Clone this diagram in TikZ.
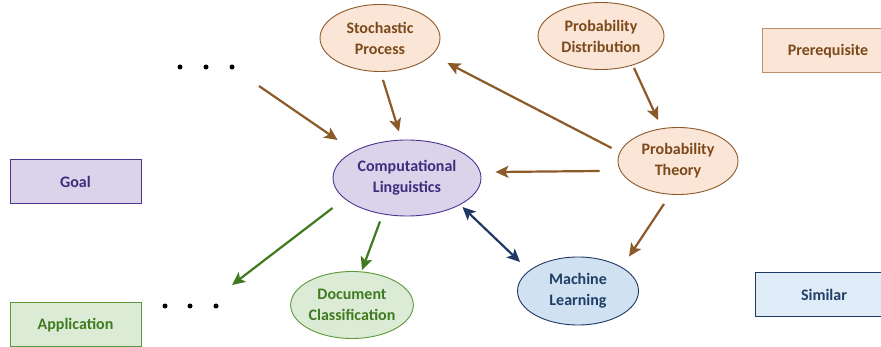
\documentclass[tikz,border=0pt]{standalone}
\usepackage{fontspec}
\setmainfont{Carlito}
\usetikzlibrary{shapes.geometric,arrows.meta,calc}
\definecolor{peach}{HTML}{FBE5D6}
\definecolor{brtext}{HTML}{7B4A1B}
\definecolor{brline}{HTML}{8C5A28}
\definecolor{brlight}{HTML}{B8906A}
\definecolor{pufill}{HTML}{DAD3EA}
\definecolor{putext}{HTML}{3F2C7E}
\definecolor{puline}{HTML}{4B3590}
\definecolor{grfill}{HTML}{DCEBD5}
\definecolor{grtext}{HTML}{3E7B21}
\definecolor{grline}{HTML}{5B9A3A}
\definecolor{grarrow}{HTML}{3F7A1F}
\definecolor{blfill}{HTML}{D0E1F2}
\definecolor{blfill2}{HTML}{DFEBF6}
\definecolor{bltext}{HTML}{1F3F66}
\definecolor{blline}{HTML}{1F3864}
\tikzset{
  txt/.style={font=\bfseries\fontsize{16}{21}\selectfont, align=center},
  ell/.style={ellipse, draw, line width=0.9pt, inner sep=0pt, minimum width=120pt, minimum height=67pt, txt},
  box/.style={rectangle, draw, line width=1pt, inner sep=0pt, minimum height=44pt, txt},
  pre/.style={fill=peach, draw=brline, text=brtext},
  arr/.style={line width=2.2pt, -{Stealth[length=13pt,width=12pt,inset=3pt]}},
  dot/.style={circle, fill=black, inner sep=0pt, minimum size=5pt}
}
\begin{document}
\begin{tikzpicture}[x=1pt,y=-1pt]
\useasboundingbox (0,0) rectangle (881,347);
% legend boxes
\node[box, fill=peach, draw=brlight, text=brtext, minimum width=132pt] (prereq) at (828,51) {Prerequisite};
\node[box, fill=pufill, draw=puline, text=putext, minimum width=131pt] (goal) at (75.5,181.5) {Goal};
\node[box, fill=grfill, draw=grline, text=grtext, minimum width=131pt] (app) at (75.5,325) {Application};
\node[box, fill=blfill2, draw=blline, text=bltext, minimum width=138pt] (sim) at (824,295) {Similar};
% ellipses
\node[ell, pre] (sp) at (380,38) {Stochastic\\Process};
\node[ell, pre, minimum width=126pt] (pd) at (601,36) {Probability\\Distribution};
\node[ell, pre] (pt) at (678,161) {Probability\\Theory};
\node[ell, fill=pufill, draw=puline, text=putext, minimum width=148pt, minimum height=76pt] (cl) at (407,178) {Computational\\Linguistics};
\node[ell, fill=grfill, draw=grline, text=grtext, minimum width=121pt] (dc) at (352,305) {Document\\Classification};
\node[ell, fill=blfill, draw=blline, text=bltext, minimum width=121pt, minimum height=68pt] (ml) at (578,291) {Machine\\Learning};
% dots
\node[dot] (d1) at (180,67) {};
\node[dot] (d2) at (206,67) {};
\node[dot] (d3) at (232,67) {};
\node[dot] (e1) at (165,306) {};
\node[dot] (e2) at (190,306) {};
\node[dot] (e3) at (216,306) {};
% arrows
\draw[arr, brline] ($(d3)+(27,19)$) -- ($(cl.west)+(5,-38)$);
\draw[arr, brline] ($(sp.south)+(3,8)$) -- ($(cl.north)+(-8,-8)$);
\draw[arr, brline] ($(pt.west)+(-6,-13)$) -- ($(sp.east)+(7,25)$);
\draw[arr, brline] ($(pd.south)+(33,-2)$) -- ($(pt.north)+(-20,-7)$);
\draw[arr, brline] ($(pt.west)+(-18,10)$) -- ($(cl.east)+(14,-6)$);
\draw[arr, brline] ($(pt.south)+(-14,9)$) -- ($(ml.north)+(51,0)$);
\draw[arr, grarrow] ($(cl.west)+(0,30)$) -- ($(e3)+(16,-21)$);
\draw[arr, grarrow] ($(cl.south)+(-27,5)$) -- ($(dc.north)+(10,-1)$);
\draw[line width=2.2pt, blline, {Stealth[length=13pt,width=12pt,inset=3pt]}-{Stealth[length=13pt,width=12pt,inset=3pt]}] ($(cl.east)+(-19,29)$) -- ($(ml.west)+(3,-29)$);
\end{tikzpicture}
\end{document}
